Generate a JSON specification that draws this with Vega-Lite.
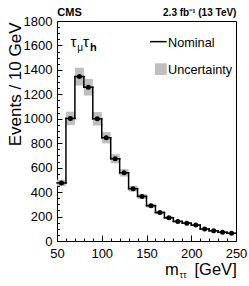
{
  "$schema": "https://vega.github.io/schema/vega-lite/v6.json",
  "autosize": {"type": "none"},
  "padding": {"left": 57, "top": 21, "right": 13, "bottom": 45},
  "width": 179,
  "height": 220,
  "config": {
    "view": {"stroke": "black", "strokeWidth": 1},
    "font": "Liberation Sans",
    "axis": {"labelColor": "black", "tickColor": "black", "grid": false, "domain": false, "labelFont": "Liberation Sans", "titleFont": "Liberation Sans", "titleColor": "black"},
    "text": {"font": "Liberation Sans", "color": "black"}
  },
  "datasets": {
    "hist": [
      {"lo": 50, "hi": 60, "c": 55, "n": 475, "dn": 449, "up": 501},
      {"lo": 60, "hi": 70, "c": 65, "n": 1003, "dn": 948, "up": 1058},
      {"lo": 70, "hi": 80, "c": 75, "n": 1345, "dn": 1273, "up": 1417},
      {"lo": 80, "hi": 90, "c": 85, "n": 1258, "dn": 1190, "up": 1326},
      {"lo": 90, "hi": 100, "c": 95, "n": 1000, "dn": 945, "up": 1055},
      {"lo": 100, "hi": 110, "c": 105, "n": 845, "dn": 799, "up": 891},
      {"lo": 110, "hi": 120, "c": 115, "n": 673, "dn": 636, "up": 710},
      {"lo": 120, "hi": 130, "c": 125, "n": 558, "dn": 527, "up": 589},
      {"lo": 130, "hi": 140, "c": 135, "n": 428, "dn": 404, "up": 452},
      {"lo": 140, "hi": 150, "c": 145, "n": 365, "dn": 345, "up": 385},
      {"lo": 150, "hi": 160, "c": 155, "n": 289, "dn": 273, "up": 305},
      {"lo": 160, "hi": 170, "c": 165, "n": 233, "dn": 220, "up": 246},
      {"lo": 170, "hi": 180, "c": 175, "n": 190, "dn": 179, "up": 201},
      {"lo": 180, "hi": 190, "c": 185, "n": 160, "dn": 151, "up": 169},
      {"lo": 190, "hi": 200, "c": 195, "n": 146, "dn": 138, "up": 154},
      {"lo": 200, "hi": 210, "c": 205, "n": 130, "dn": 123, "up": 137},
      {"lo": 210, "hi": 220, "c": 215, "n": 98, "dn": 92, "up": 104},
      {"lo": 220, "hi": 230, "c": 225, "n": 83, "dn": 78, "up": 88},
      {"lo": 230, "hi": 240, "c": 235, "n": 72, "dn": 68, "up": 76},
      {"lo": 240, "hi": 250, "c": 245, "n": 64, "dn": 60, "up": 68}
    ],
    "one": [{}]
  },
  "resolve": {"axis": {"x": "independent", "y": "independent"}},
  "layer": [
    {
      "data": {"name": "hist"},
      "mark": {"type": "rect", "color": "#bfbfbf"},
      "encoding": {
        "x": {"field": "lo", "type": "quantitative", "scale": {"domain": [50, 250], "nice": false, "zero": false},
              "axis": {"orient": "bottom", "values": [50, 100, 150, 200, 250], "format": "d", "ticks": false, "labelFontSize": 13, "labelPadding": 6, "labelFlush": false, "title": null}},
        "x2": {"field": "hi"},
        "y": {"field": "dn", "type": "quantitative", "scale": {"domain": [0, 1800], "nice": false, "zero": false},
              "axis": {"orient": "left", "values": [0, 200, 400, 600, 800, 1000, 1200, 1400, 1600, 1800], "format": "d", "ticks": false, "labelFontSize": 13, "labelPadding": 5,
                       "title": "Events / 10 GeV", "titleFontSize": 17, "titleFontWeight": "normal", "titleAngle": -90, "titleAlign": "right", "titleBaseline": "alphabetic", "titleX": -37, "titleY": 1}},
        "y2": {"field": "up"}
      }
    },
    {
      "data": {"name": "hist"},
      "mark": {"type": "rule", "color": "black", "strokeWidth": 1.5, "strokeCap": "square"},
      "encoding": {
        "x": {"field": "lo", "type": "quantitative", "scale": {"domain": [50, 250], "nice": false, "zero": false},
              "axis": {"orient": "top", "offset": -220, "labels": false, "title": null,
                       "values": [50,60,70,80,90,100,110,120,130,140,150,160,170,180,190,200,210,220,230,240,250],
                       "tickSize": {"condition": {"test": "datum.value % 50 === 0", "value": 6}, "value": 3}, "tickWidth": 1}},
        "x2": {"field": "hi"},
        "y": {"field": "n", "type": "quantitative", "scale": {"domain": [0, 1800], "nice": false, "zero": false},
              "axis": {"orient": "right", "offset": -179, "labels": false, "title": null,
                       "values": [0,50,100,150,200,250,300,350,400,450,500,550,600,650,700,750,800,850,900,950,1000,1050,1100,1150,1200,1250,1300,1350,1400,1450,1500,1550,1600,1650,1700,1750,1800],
                       "tickSize": {"condition": {"test": "datum.value % 200 === 0", "value": 5}, "value": 2.5}, "tickWidth": 1}}
      }
    },
    {
      "data": {"name": "hist"},
      "transform": [{"window": [{"op": "lead", "field": "n", "as": "nxt"}]}, {"filter": "datum.nxt != null"}],
      "mark": {"type": "rule", "color": "black", "strokeWidth": 1.5, "strokeCap": "square"},
      "encoding": {
        "x": {"field": "hi", "type": "quantitative", "axis": null, "scale": {"domain": [50, 250], "nice": false, "zero": false}},
        "y": {"field": "n", "type": "quantitative", "axis": null, "scale": {"domain": [0, 1800], "nice": false, "zero": false}},
        "y2": {"field": "nxt"}
      }
    },
    {
      "data": {"name": "hist"},
      "mark": {"type": "point", "filled": true, "color": "black", "size": 25, "opacity": 1},
      "encoding": {
        "x": {"field": "c", "type": "quantitative", "axis": null, "scale": {"domain": [50, 250], "nice": false, "zero": false}},
        "y": {"field": "n", "type": "quantitative", "axis": null, "scale": {"domain": [0, 1800], "nice": false, "zero": false}}
      }
    },
    {
      "data": {"name": "one"},
      "mark": {"type": "rule", "color": "black", "strokeWidth": 1.5},
      "encoding": {
        "x": {"datum": 153.9, "type": "quantitative", "axis": null},
        "x2": {"datum": 172.6},
        "y": {"datum": 1631, "type": "quantitative", "axis": null}
      }
    },
    {
      "data": {"name": "one"},
      "mark": {"type": "rect", "color": "#bfbfbf"},
      "encoding": {
        "x": {"datum": 159.5, "type": "quantitative", "axis": null},
        "x2": {"datum": 172.6},
        "y": {"datum": 1358, "type": "quantitative", "axis": null},
        "y2": {"datum": 1454}
      }
    },
    {
      "data": {"name": "one"},
      "mark": {"type": "text", "text": "Nominal", "align": "left", "baseline": "alphabetic", "fontSize": 12.7},
      "encoding": {"x": {"datum": 174, "type": "quantitative", "axis": null}, "y": {"datum": 1587, "type": "quantitative", "axis": null}}
    },
    {
      "data": {"name": "one"},
      "mark": {"type": "text", "text": "Uncertainty", "align": "left", "baseline": "alphabetic", "fontSize": 12.7},
      "encoding": {"x": {"datum": 174, "type": "quantitative", "axis": null}, "y": {"datum": 1367, "type": "quantitative", "axis": null}}
    },
    {
      "data": {"name": "one"},
      "mark": {"type": "text", "text": "τ", "align": "left", "baseline": "alphabetic", "fontSize": 15},
      "encoding": {"x": {"datum": 65, "type": "quantitative", "axis": null}, "y": {"datum": 1587, "type": "quantitative", "axis": null}}
    },
    {
      "data": {"name": "one"},
      "mark": {"type": "text", "text": "μ", "align": "left", "baseline": "alphabetic", "fontSize": 10},
      "encoding": {"x": {"datum": 72.5, "type": "quantitative", "axis": null}, "y": {"datum": 1555, "type": "quantitative", "axis": null}}
    },
    {
      "data": {"name": "one"},
      "mark": {"type": "text", "text": "τ", "align": "left", "baseline": "alphabetic", "fontSize": 15},
      "encoding": {"x": {"datum": 79, "type": "quantitative", "axis": null}, "y": {"datum": 1587, "type": "quantitative", "axis": null}}
    },
    {
      "data": {"name": "one"},
      "mark": {"type": "text", "text": "h", "align": "left", "baseline": "alphabetic", "fontSize": 11, "fontWeight": "bold"},
      "encoding": {"x": {"datum": 87, "type": "quantitative", "axis": null}, "y": {"datum": 1555, "type": "quantitative", "axis": null}}
    },
    {
      "data": {"name": "one"},
      "mark": {"type": "text", "text": "CMS", "align": "left", "baseline": "alphabetic", "fontSize": 11, "fontWeight": "bold"},
      "encoding": {"x": {"datum": 50.3, "type": "quantitative", "axis": null}, "y": {"datum": 1841, "type": "quantitative", "axis": null}}
    },
    {
      "data": {"name": "one"},
      "mark": {"type": "text", "text": "2.3 fb⁻¹ (13 TeV)", "align": "right", "baseline": "alphabetic", "fontSize": 10, "fontWeight": "bold"},
      "encoding": {"x": {"datum": 250.5, "type": "quantitative", "axis": null}, "y": {"datum": 1841, "type": "quantitative", "axis": null}}
    },
    {
      "data": {"name": "one"},
      "mark": {"type": "text", "text": "m", "align": "left", "baseline": "alphabetic", "fontSize": 16.5},
      "encoding": {"x": {"datum": 170.7, "type": "quantitative", "axis": null}, "y": {"datum": -278, "type": "quantitative", "axis": null}}
    },
    {
      "data": {"name": "one"},
      "mark": {"type": "text", "text": "ττ", "align": "left", "baseline": "alphabetic", "fontSize": 9},
      "encoding": {"x": {"datum": 186.9, "type": "quantitative", "axis": null}, "y": {"datum": -302, "type": "quantitative", "axis": null}}
    },
    {
      "data": {"name": "one"},
      "mark": {"type": "text", "text": "[GeV]", "align": "right", "baseline": "alphabetic", "fontSize": 16.5},
      "encoding": {"x": {"datum": 250.8, "type": "quantitative", "axis": null}, "y": {"datum": -278, "type": "quantitative", "axis": null}}
    }
  ]
}
